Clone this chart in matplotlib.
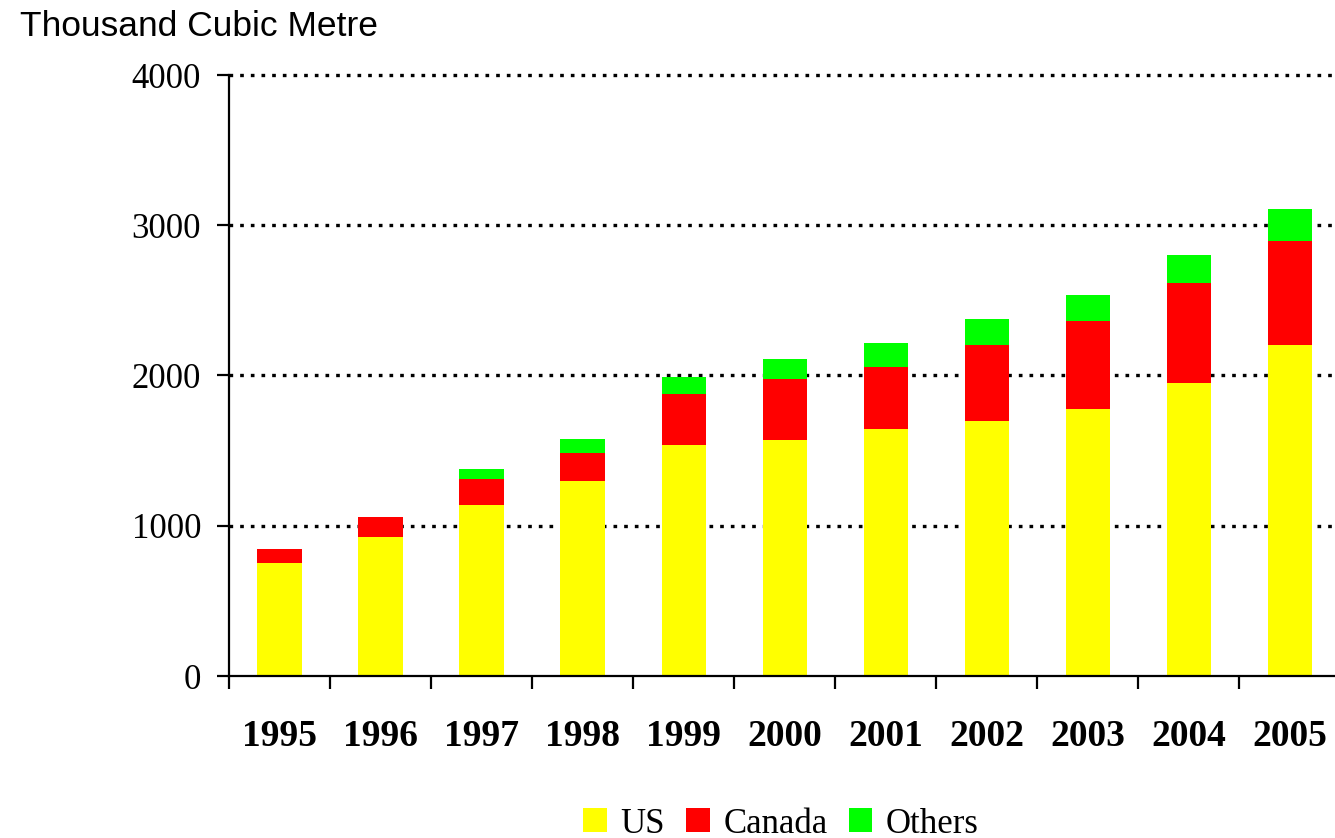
import numpy as np
import matplotlib
matplotlib.use('Agg')
import matplotlib.pyplot as plt

# Datos (miles de metros cúbicos)
years = ['1995', '1996', '1997', '1998', '1999', '2000',
         '2001', '2002', '2003', '2004', '2005']
us = [751, 922, 1135, 1295, 1539, 1574, 1643, 1696, 1776, 1949, 2203]
canada = [91, 133, 176, 189, 340, 405, 416, 507, 589, 667, 695]
others = [0, 0, 64, 91, 108, 128, 155, 172, 170, 184, 209]
y_ticks = [0, 1000, 2000, 3000, 4000]

serif = ['Liberation Serif', 'DejaVu Serif']
sans = ['Liberation Sans', 'DejaVu Sans']

fig = plt.figure(figsize=(13.35, 8.38), dpi=100)
ax = fig.add_axes([229 / 1335, 162 / 838, 1 - 229 / 1335, 601 / 838])

x = np.arange(len(years))
us_arr = np.array(us)
ca_arr = np.array(canada)
ot_arr = np.array(others)

bw = 0.436
ax.bar(x, us_arr, bw, color='#FFFF00', label='US', zorder=2)
ax.bar(x, ca_arr, bw, bottom=us_arr, color='#FF0000', label='Canada', zorder=2)
ax.bar(x, ot_arr, bw, bottom=us_arr + ca_arr, color='#00FF00', label='Others', zorder=2)

ax.set_xlim(-0.5, 10.45)
ax.set_ylim(0, 4000)

# Ejes
for side in ['top', 'right']:
    ax.spines[side].set_visible(False)
for side in ['left', 'bottom']:
    ax.spines[side].set_linewidth(1.6)
    ax.spines[side].set_zorder(3)

ax.set_yticks(y_ticks)
ax.set_yticklabels([str(v) for v in y_ticks], fontsize=25, family=serif)
ax.tick_params(axis='y', direction='out', length=9, width=1.6, pad=11)

# ticks en los límites de categoría (sin el del borde derecho), etiquetas en el centro
ax.set_xticks(np.arange(len(years)) - 0.5)
ax.set_xticklabels([])
ax.tick_params(axis='x', which='major', direction='out', length=9, width=1.6)
ax.set_xticks(x, minor=True)
ax.set_xticklabels(years, minor=True, fontsize=27, fontweight='bold', family=serif)
ax.tick_params(axis='x', which='minor', length=0, pad=31)

# Rejilla punteada
for v in y_ticks[1:]:
    ax.axhline(v, color='black', linewidth=2.4, linestyle=(0, (1.1, 2.1)), zorder=1,
               clip_on=False)

fig.text(20 / 1335, 1 - 27 / 838, 'Thousand Cubic Metre', fontsize=25.5, family=sans,
         ha='left', va='center')

fig.legend(loc='center', bbox_to_anchor=(781 / 1335, 14 / 838), ncol=3, frameon=False,
           prop={'family': serif, 'size': 25}, handlelength=0.68, handleheight=0.68,
           handletextpad=0.4, columnspacing=0.6, borderaxespad=0)

fig.savefig('out.png', dpi=100)
plt.close(fig)
